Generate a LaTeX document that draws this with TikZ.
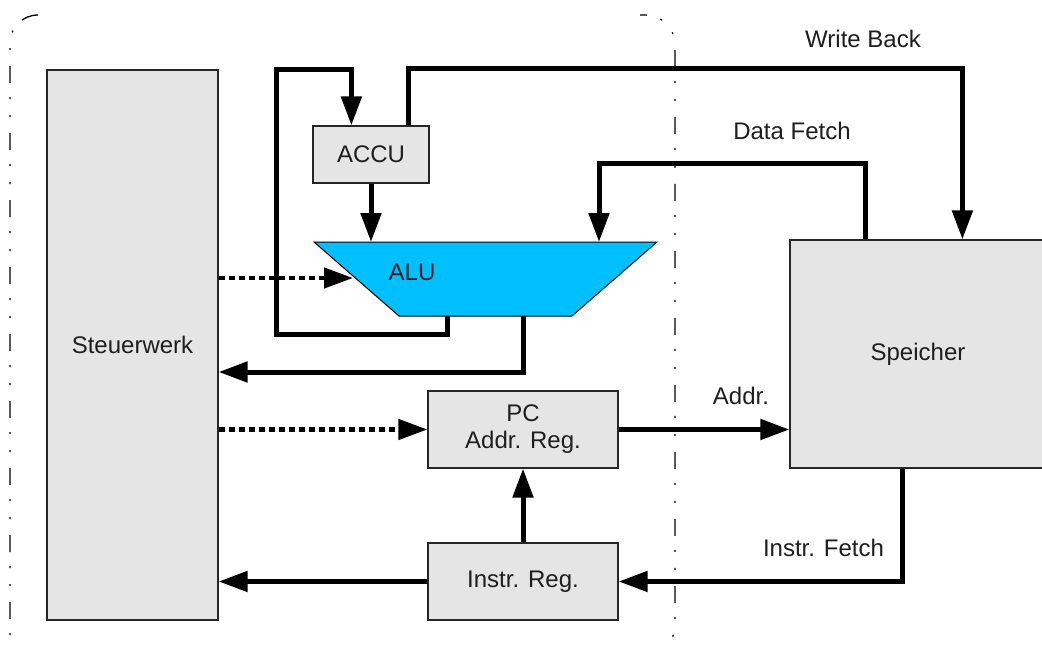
\documentclass[tikz,border=0pt]{standalone}
\usepackage{fontspec}
\setmainfont{Liberation Sans}
\usetikzlibrary{arrows.meta,calc}
\definecolor{boxgray}{RGB}{229,229,229}
\definecolor{alublue}{RGB}{0,191,255}
\definecolor{textdark}{RGB}{30,30,30}

\begin{document}
\begin{tikzpicture}[x=1pt,y=-1pt,
  font=\fontsize{24}{27}\selectfont,
  block/.style={draw=black!85, line width=1.2pt, fill=boxgray, inner sep=0pt,
    align=center, text=textdark},
  bus/.style={line width=5pt, line join=miter,
    -{Triangle[length=29pt,width=20pt]}},
  ctrl/.style={line width=4.5pt, dash pattern=on 6pt off 4pt,
    -{Triangle[length=29pt,width=20pt]}},
  boundary/.style={line width=1.3pt,
    dash pattern=on 17pt off 14pt on 2pt off 16pt on 2pt off 16pt},
  tag/.style={anchor=base, text=textdark}]

\useasboundingbox (0,0) rectangle (1042,648);
\clip (0,0) rectangle (1042,648);

% CPU boundary (only its side walls are drawn)
\draw[boundary, rounded corners=28pt] (38,15) -- (10,15) -- (10,660);
\draw[boundary, rounded corners=30pt, dash phase=10pt] (640,15) -- (675,15) -- (675,655) -- (640,655);

% function blocks
\node[block, minimum width=171pt, minimum height=550pt] (steuer) at (132.5,345) {Steuerwerk};
\node[block, minimum width=116pt, minimum height=57pt] (accu) at (371,154.5) {ACCU};
\node[block, minimum width=190pt, minimum height=77pt] (pc) at (523,429.5) {PC\\Addr. Reg.};
\node[block, minimum width=190pt, minimum height=77pt] (ireg) at (523,581.5) {Instr. Reg.};
\node[block, minimum width=256pt, minimum height=228pt] (mem) at (918,354) {Speicher};

% ALU trapezoid and its connection points
\coordinate (aluTL) at (314,242);
\coordinate (aluTR) at (657,242);
\coordinate (aluBR) at (572,316);
\coordinate (aluBL) at (399,316);
\coordinate (aluLoop) at (447,316);
\coordinate (aluOut) at (523,316);
\coordinate (aluDF) at (599,242);
\coordinate (aluCtrl) at (353,278);
\draw[fill=alublue, line width=1pt] (aluTL) -- (aluTR) -- (aluBR) -- (aluBL) -- cycle;
\node[tag] (alulabel) at (412,280) {ALU};

% data paths
\draw[bus] (aluLoop) -- ++(0,18) -- ++(-171,0) -- ++(0,-265) -| ([xshift=39pt]accu.north west);
\draw[bus] ([xshift=96pt]accu.north west) -- ++(0,-57) -| ([xshift=173pt]mem.north west);
\draw[bus] (accu.south) -- (accu.south |- aluTL);
\draw[bus] ([xshift=76pt]mem.north west) -- ++(0,-76) -| (aluDF);
\draw[bus] (aluOut) |- ([yshift=-27pt]steuer.east);
\draw[bus] (pc.east) -- (mem.west |- pc.east);
\draw[bus] (ireg.north) -- (pc.south);
\draw[bus] ([xshift=113pt]mem.south west) |- (ireg.east);
\draw[bus] (ireg.west) -- (steuer.east |- ireg.west);

% control lines
\draw[ctrl] (steuer.east |- aluCtrl) -- (aluCtrl);
\draw[ctrl] (steuer.east |- pc.west) -- (pc.west);

% path labels
\node[tag] (wb) at (863,47) {Write Back};
\node[tag] (df) at (792,139) {Data Fetch};
\node[tag] (addr) at (741,404) {Addr.};
\node[tag] (ifetch) at (823.5,556) {Instr. Fetch};
\end{tikzpicture}
\end{document}
